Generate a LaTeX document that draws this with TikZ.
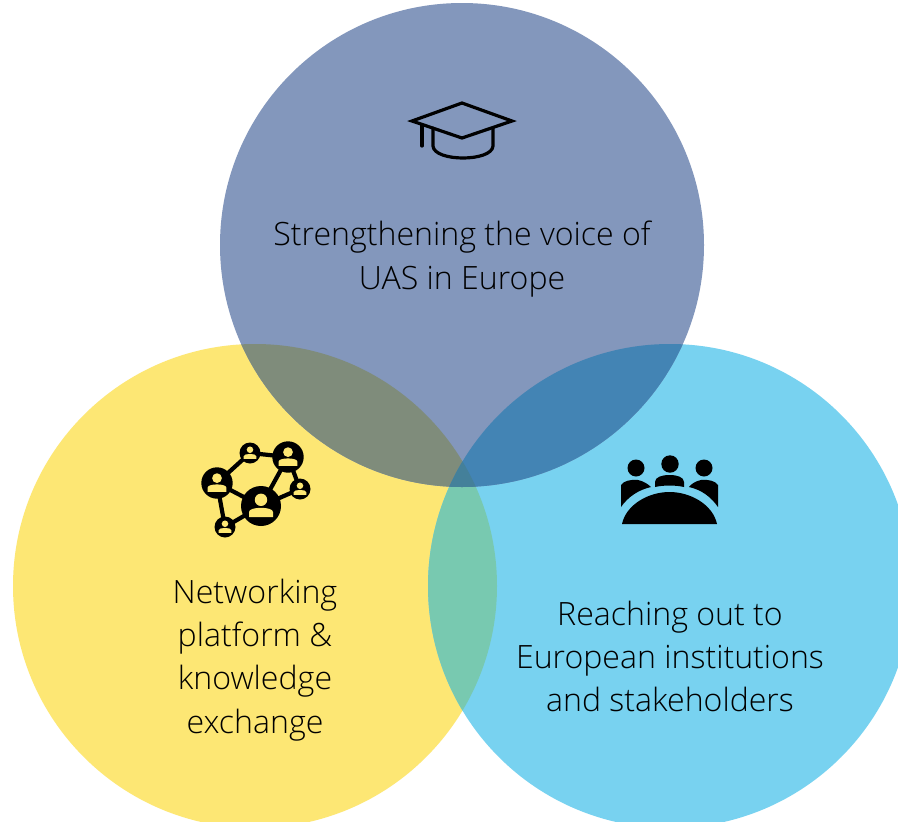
\documentclass[tikz,border=0pt]{standalone}
\usepackage{fontspec}
\setmainfont{Open Sans Light}
\definecolor{ctop}{HTML}{8397BC}
\definecolor{cleft}{HTML}{FDE774}
\definecolor{cright}{HTML}{78D2F0}
\definecolor{ctl}{HTML}{7F8C7B}
\definecolor{ctr}{HTML}{4384B4}
\definecolor{clr}{HTML}{78C9B0}
\definecolor{cmid}{HTML}{44809A}
\tikzset{
  lbl/.style={align=center,font=\fontsize{32.1}{43.3}\selectfont,text=black,inner sep=0pt},
  edge/.style={line width=4.2pt,black},
  capline/.style={line width=3.2pt,black,line join=miter,line cap=round}
}
\newcommand{\personicon}[3]{% x y r
  \fill[black] (#1,#2) circle (#3);
  \fill[cleft] (#1,#2-0.31*#3) circle (0.31*#3);
  \fill[cleft] (#1-0.6*#3,#2+0.56*#3) -- (#1-0.6*#3,#2+0.3*#3)
     .. controls (#1-0.6*#3,#2+0.02*#3) and (#1+0.6*#3,#2+0.02*#3) .. (#1+0.6*#3,#2+0.3*#3)
     -- (#1+0.6*#3,#2+0.56*#3) -- cycle;
}
\begin{document}
\begin{tikzpicture}[x=1pt,y=-1pt]
\useasboundingbox (0,0) rectangle (898,822);
\clip (0,0) rectangle (898,822);
\fill[white] (0,0) rectangle (898,822);
\def\circT{(462,245) circle (242)}
\def\circL{(255,586) circle (242)}
\def\circR{(670,586) circle (242)}
\fill[cleft] \circL;
\fill[cright] \circR;
\fill[ctop] \circT;
\begin{scope}\clip \circL; \fill[clr] \circR; \end{scope}
\begin{scope}\clip \circT; \fill[ctl] \circL; \end{scope}
\begin{scope}\clip \circT; \fill[ctr] \circR; \end{scope}
\begin{scope}\clip \circT; \clip \circL; \fill[cmid] \circR; \end{scope}
\node[lbl] (top) at (462,259) {Strengthening the voice of\\UAS in Europe};
\node[lbl] (left) at (255,660) {Networking\\platform \&\\knowledge\\exchange};
\node[lbl] (right) at (670,656.5) {Reaching out to\\European institutions\\and stakeholders};
% mortarboard
\draw[capline] (462,103) -- (512,121) -- (462,138) -- (412,121) -- cycle;
\draw[capline] (422,125) -- (422,146);
\draw[capline] (433,128) -- (433,146) .. controls (434,162) and (492,162) .. (493,146) -- (493,128);
% network
\coordinate (n1) at (217,483);
\coordinate (n2) at (250,453);
\coordinate (n3) at (288,457);
\coordinate (n4) at (300,489);
\coordinate (n5) at (261,506);
\coordinate (n6) at (225,527);
\draw[edge] (n1) -- (n2) -- (n3) -- (n5) -- (n1) -- (n6) -- (n5) -- (n4) -- (n3);
\personicon{217}{483}{15.7}
\personicon{250}{453}{10.5}
\personicon{288}{457}{15.7}
\personicon{300}{489}{10.5}
\personicon{261}{506}{20}
\personicon{225}{527}{10.5}
% meeting
\fill (636,468) circle (8.5);
\fill (670,464) circle (8.7);
\fill (704,468) circle (8.5);
\fill (621,507) -- (621,485) .. controls (623,481) and (632,479) .. (638,480) .. controls (643,481) and (648,484) .. (651,487) .. controls (638,490) and (628,497) .. (621,507) -- cycle;
\fill (718,507) -- (718,485) .. controls (716,481) and (707,479) .. (701,480) .. controls (696,481) and (691,484) .. (689,487) .. controls (702,490) and (711,497) .. (718,507) -- cycle;
\fill (655,487) -- (655,482) .. controls (655,477) and (662,475) .. (669.5,475) .. controls (677,475) and (684,477) .. (684,482) -- (684,487) .. controls (675,485) and (664,485) .. (655,487) -- cycle;
\fill (622,524) .. controls (626,505) and (648,492) .. (669.5,492) .. controls (691,492) and (713,505) .. (717,524) -- cycle;
\end{tikzpicture}
\end{document}
